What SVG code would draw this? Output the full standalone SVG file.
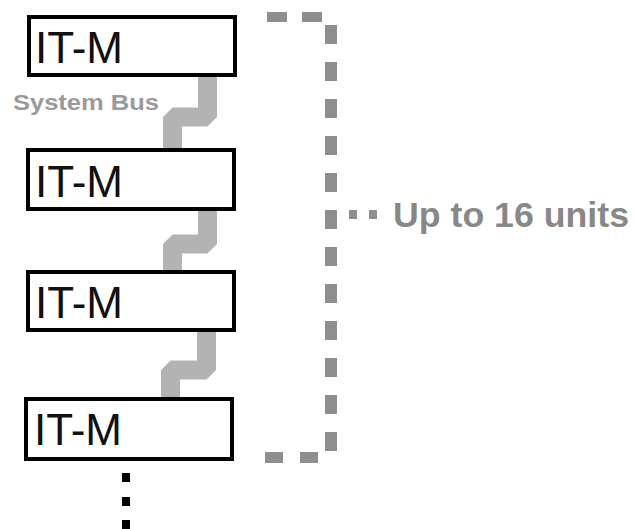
<svg xmlns="http://www.w3.org/2000/svg" width="635" height="529" viewBox="0 0 635 529">
<style>
.box{fill:#fff;stroke:#000;stroke-width:4}
.lbl{font-family:"Liberation Sans",Arial,sans-serif;font-size:44px;fill:#111}
.bus{fill:none;stroke:#b3b3b3;stroke-width:19;stroke-linejoin:bevel}
.brk{fill:none;stroke:#8e8e8e}
.dot{fill:#000}
</style>
<rect width="635" height="529" fill="#fff"/>
<g id="connectors">
<path class="bus" d="M207.5,77 V117 H172.5 V148"/>
<path class="bus" d="M207.5,211 V244 H172.5 V270"/>
<path class="bus" d="M206.5,332 V370 H170.5 V397"/>
</g>
<g id="node1"><rect class="box" x="29" y="17" width="206" height="58"/><text class="lbl" x="35" y="63">IT-M</text></g>
<g id="node2"><rect class="box" x="28" y="150" width="206" height="59"/><text class="lbl" x="35" y="197">IT-M</text></g>
<g id="node3"><rect class="box" x="28" y="272" width="206" height="58"/><text class="lbl" x="35" y="318">IT-M</text></g>
<g id="node4"><rect class="box" x="26" y="399" width="206" height="60"/><text class="lbl" x="34" y="445">IT-M</text></g>
<text x="13" y="110" textLength="146" lengthAdjust="spacingAndGlyphs" font-family="'Liberation Sans',Arial,sans-serif" font-size="22" font-weight="bold" fill="#9a9a9a">System Bus</text>
<g id="bracket">
<line class="brk" x1="267" y1="17" x2="322" y2="17" stroke-width="10" stroke-dasharray="20 15"/>
<line class="brk" x1="331" y1="25" x2="331" y2="451" stroke-width="12" stroke-dasharray="19 18"/>
<line class="brk" x1="265" y1="457.5" x2="319" y2="457.5" stroke-width="11" stroke-dasharray="18 17"/>
<rect x="349" y="210" width="8" height="9" fill="#8e8e8e"/>
<rect x="369" y="210" width="8" height="9" fill="#8e8e8e"/>
</g>
<text x="393" y="227" textLength="236" lengthAdjust="spacingAndGlyphs" font-family="'Liberation Sans',Arial,sans-serif" font-size="35" font-weight="bold" fill="#888">Up to 16 units</text>
<g id="ellipsis">
<rect class="dot" x="122" y="473" width="8" height="9"/>
<rect class="dot" x="122" y="497" width="8" height="9"/>
<rect class="dot" x="122" y="520" width="8" height="9"/>
</g>
</svg>
